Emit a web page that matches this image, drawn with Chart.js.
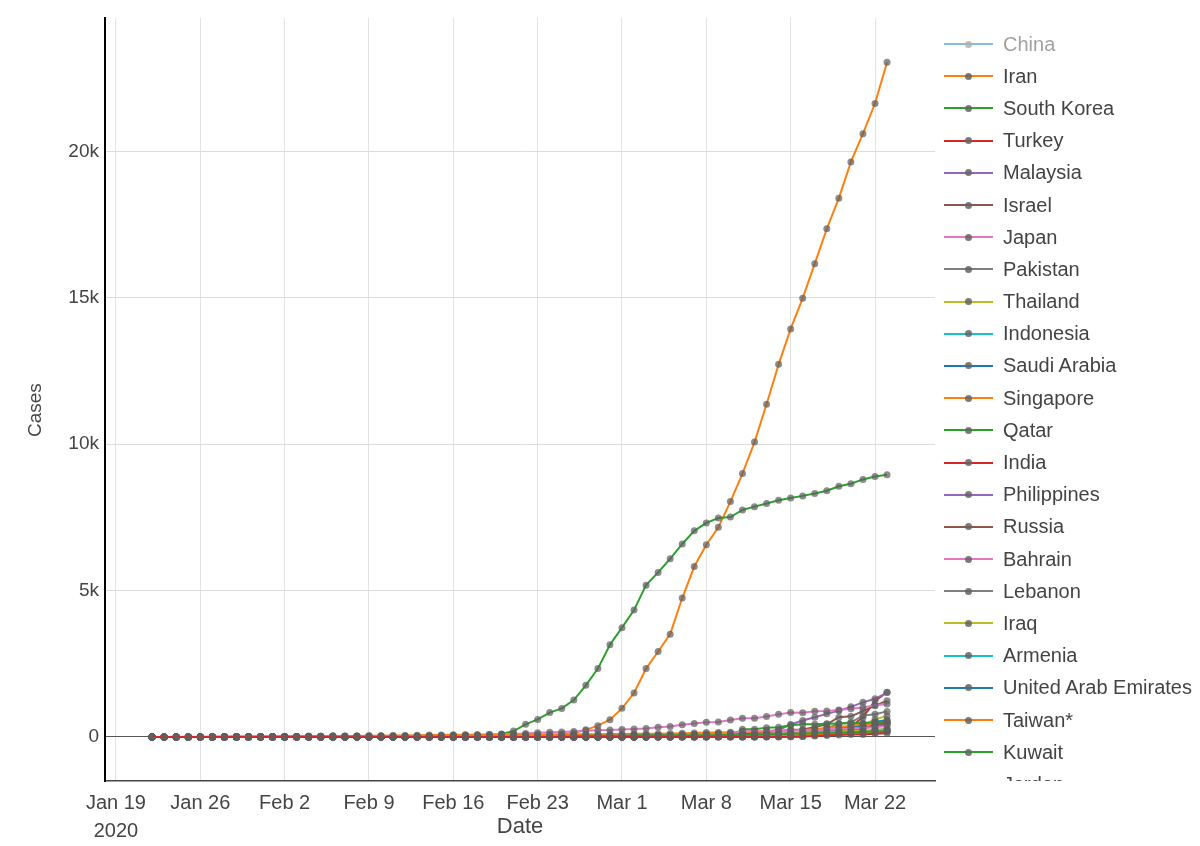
<!DOCTYPE html>
<html>
<head>
<meta charset="utf-8">
<script src="https://cdn.jsdelivr.net/npm/chart.js@4.4.1/dist/chart.umd.min.js"></script>
<style>
  html, body { margin: 0; padding: 0; background: #fff; }
  #wrap { position: relative; width: 1200px; height: 846px; }
  #legend {
    position: absolute; left: 940px; top: 28px; width: 260px; height: 753px;
    overflow: hidden; font-family: "Liberation Sans", Arial, sans-serif;
    font-size: 20px; color: #444;
  }
  .item { height: 32.2px; display: flex; align-items: center; white-space: nowrap; }
  .item.off { opacity: 0.5; }
  .sym { position: relative; width: 49px; height: 2px; margin-left: 4px; margin-right: 10px; flex: none; }
  .sym i { position: absolute; left: 21px; top: -2.5px; width: 7px; height: 7px; border-radius: 50%; background: rgba(100,100,100,0.85); }
</style>
</head>
<body>
<div id="wrap">
  <canvas id="chart" width="1200" height="846"></canvas>
  <div id="legend"></div>
</div>
<script>
// ---- données : cas confirmés, un point par jour du 22 janv. au 23 mars 2020 ----
const firstDayOffset = 3; // 22 janv. = 3 jours après le 19 janv. (origine de l'axe)
const tickDays = [0, 7, 14, 21, 28, 35, 42, 49, 56, 63];
const yTicks = [0, 5000, 10000, 15000, 20000];

const countries = ['China', 'Iran', 'South Korea', 'Turkey', 'Malaysia', 'Israel', 'Japan', 'Pakistan',
  'Thailand', 'Indonesia', 'Saudi Arabia', 'Singapore', 'Qatar', 'India', 'Philippines', 'Russia',
  'Bahrain', 'Lebanon', 'Iraq', 'Armenia', 'United Arab Emirates', 'Taiwan*', 'Kuwait', 'Jordan'];
const hiddenCountries = ['China'];

const china = [548,643,920,1406,2075,2877,5509,6087,8141,9802,
  11891,16630,19716,23707,27440,30587,34110,36814,39829,42354,44386,44759,59895,66358,68413,70513,72434,74211,74619,75077,75550,77001,77022,77241,77754,78166,78600,78928,79356,
  79932,80136,80261,80386,80537,80690,80770,80823,80860,80887,80921,80932,80945,80977,81003,81033,81058,81102,81156,81250,81305,81435,81498];
const iran = [0,0,0,0,0,0,0,0,0,0,
  0,0,0,0,0,0,0,0,0,0,0,0,0,0,0,0,0,0,2,5,18,28,43,61,95,139,245,388,593,
  978,1501,2336,2922,3513,4747,5823,6566,7161,8042,9000,10075,11364,12729,13938,14991,16169,17361,18407,19644,20610,21638,23049];
const southKorea = [1,1,2,2,3,4,4,4,4,11,
  12,15,15,16,19,23,24,24,25,27,28,28,28,28,28,29,30,31,31,104,204,433,602,833,977,1261,1766,2337,3150,
  3736,4335,5186,5621,6088,6593,7041,7314,7478,7513,7755,7869,7979,8086,8162,8236,8320,8413,8565,8652,8799,8897,8961];
const turkey = [0,0,0,0,0,0,0,0,0,0,
  0,0,0,0,0,0,0,0,0,0,0,0,0,0,0,0,0,0,0,0,0,0,0,0,0,0,0,0,0,
  0,0,0,0,0,0,0,0,0,0,1,1,5,5,6,18,47,98,192,359,670,1236,1529];
const malaysia = [0,0,0,3,4,4,4,7,8,8,
  8,8,8,10,12,12,12,16,16,18,18,18,19,19,22,22,22,22,22,22,22,22,22,22,22,22,23,25,29,
  29,29,36,50,50,83,93,99,117,129,149,149,197,238,428,566,673,790,900,1030,1183,1306,1518];
const israel = [0,0,0,0,0,0,0,0,0,0,
  0,0,0,0,0,0,0,0,0,0,0,0,0,0,0,0,0,0,0,0,1,1,1,1,1,2,3,4,7,
  10,10,12,15,20,37,43,61,61,75,100,126,161,193,250,255,337,433,677,705,883,1071,1238];
const japan = [2,1,2,2,4,4,7,7,11,15,
  20,20,20,22,22,45,25,25,26,26,26,28,28,29,43,59,66,74,84,94,105,122,147,159,170,189,214,228,241,
  256,274,293,331,360,420,461,502,511,581,639,639,701,773,839,825,878,889,924,963,1007,1086,1128];
const pakistan = [0,0,0,0,0,0,0,0,0,0,
  0,0,0,0,0,0,0,0,0,0,0,0,0,0,0,0,0,0,0,0,0,0,0,0,0,2,2,2,4,
  4,4,5,5,5,6,6,6,6,16,19,20,28,31,53,136,236,299,454,501,730,776,875];
const thailand = [2,3,5,7,8,8,14,14,14,19,
  19,19,19,25,25,25,25,32,32,32,33,33,33,33,33,34,35,35,35,35,35,35,35,35,37,40,40,41,42,
  42,43,43,43,47,48,50,50,50,53,59,70,75,82,114,147,177,212,272,322,411,599,721];
const indonesia = [0,0,0,0,0,0,0,0,0,0,
  0,0,0,0,0,0,0,0,0,0,0,0,0,0,0,0,0,0,0,0,0,0,0,0,0,0,0,0,0,
  0,2,2,2,2,4,4,6,19,27,34,34,69,96,117,134,172,227,311,369,450,514,579];
const saudiArabia = [0,0,0,0,0,0,0,0,0,0,
  0,0,0,0,0,0,0,0,0,0,0,0,0,0,0,0,0,0,0,0,0,0,0,0,0,0,0,0,0,
  0,1,1,1,5,5,5,11,15,20,21,45,86,103,103,118,171,171,274,344,392,511,562];
const singapore = [0,1,3,3,4,5,7,7,10,13,
  16,18,18,24,28,28,30,33,40,45,47,50,58,67,72,75,77,81,84,84,85,85,89,89,91,93,96,98,102,
  106,108,110,110,117,130,138,150,150,160,178,178,200,212,226,243,266,313,345,385,432,455,509];
const qatar = [0,0,0,0,0,0,0,0,0,0,
  0,0,0,0,0,0,0,0,0,0,0,0,0,0,0,0,0,0,0,0,0,0,0,0,0,0,0,0,1,
  1,3,7,8,8,8,15,15,18,24,262,262,320,337,401,439,439,452,460,470,481,494,501];
const india = [0,0,0,0,0,0,0,0,1,1,
  1,2,3,3,3,3,3,3,3,3,3,3,3,3,3,3,3,3,3,3,3,3,3,3,3,3,3,3,3,
  3,5,5,28,30,31,34,39,43,56,62,73,82,102,113,119,142,156,194,244,330,396,499];
const philippines = [0,0,0,0,0,0,0,0,1,1,
  1,2,2,2,3,3,3,3,3,3,3,3,3,3,3,3,3,3,3,3,3,3,3,3,3,3,3,3,3,
  3,3,3,3,3,5,6,10,20,33,49,52,64,111,140,142,187,202,217,230,307,380,462];
const russia = [0,0,0,0,0,0,0,0,0,2,
  2,2,2,2,2,2,2,2,2,2,2,2,2,2,2,2,2,2,2,2,2,2,2,2,2,2,2,2,2,
  2,3,3,3,4,13,13,17,17,20,20,28,45,59,63,90,114,147,199,253,306,367,438];
const bahrain = [0,0,0,0,0,0,0,0,0,0,
  0,0,0,0,0,0,0,0,0,0,0,0,0,0,0,0,0,0,0,0,0,0,0,1,23,33,33,36,41,
  47,49,49,52,55,60,85,85,95,110,195,195,195,210,214,214,228,256,278,285,305,334,377];
const lebanon = [0,0,0,0,0,0,0,0,0,0,
  0,0,0,0,0,0,0,0,0,0,0,0,0,0,0,0,0,0,0,0,1,1,1,1,1,2,2,2,4,
  10,13,13,13,16,22,22,32,32,41,61,61,77,93,110,110,120,133,157,163,187,248,267];
const iraq = [0,0,0,0,0,0,0,0,0,0,
  0,0,0,0,0,0,0,0,0,0,0,0,0,0,0,0,0,0,0,0,0,0,0,1,5,6,7,8,13,
  19,26,32,35,35,40,54,60,60,71,71,71,101,110,116,124,154,164,192,208,214,233,266];
const armenia = [0,0,0,0,0,0,0,0,0,0,
  0,0,0,0,0,0,0,0,0,0,0,0,0,0,0,0,0,0,0,0,0,0,0,0,0,0,0,0,0,
  1,1,1,1,1,1,1,1,1,1,1,4,8,18,26,52,78,84,115,136,160,194,235];
const uae = [0,0,0,0,0,0,0,4,4,4,
  4,5,5,5,5,5,5,7,7,8,8,8,8,8,8,9,9,9,9,9,9,13,13,13,13,13,13,19,21,
  21,21,27,27,29,29,45,45,45,74,74,85,85,85,98,98,98,113,140,140,153,153,198];
const taiwan = [1,1,3,3,4,5,8,8,9,10,
  10,10,10,11,11,16,16,17,18,18,18,18,18,18,18,20,22,22,23,24,26,26,28,30,31,32,32,34,39,
  40,41,42,42,44,45,45,45,45,47,48,49,50,53,59,67,77,100,108,135,153,169,195];
const kuwait = [0,0,0,0,0,0,0,0,0,0,
  0,0,0,0,0,0,0,0,0,0,0,0,0,0,0,0,0,0,0,0,0,0,0,1,11,26,43,45,45,
  45,56,56,56,58,58,61,64,64,69,72,80,80,104,112,123,130,142,148,159,176,188,189];
const jordan = [0,0,0,0,0,0,0,0,0,0,
  0,0,0,0,0,0,0,0,0,0,0,0,0,0,0,0,0,0,0,0,0,0,0,0,0,0,0,0,0,
  0,0,1,1,1,1,1,1,1,1,1,1,1,1,8,17,34,52,69,85,85,112,127];

const series = [china, iran, southKorea, turkey, malaysia, israel, japan, pakistan, thailand,
  indonesia, saudiArabia, singapore, qatar, india, philippines, russia, bahrain, lebanon, iraq,
  armenia, uae, taiwan, kuwait, jordan];

// palette par défaut de plotly
const palette = ['#1f77b4', '#ff7f0e', '#2ca02c', '#d62728', '#9467bd', '#8c564b', '#e377c2', '#7f7f7f', '#bcbd22', '#17becf'];
const monthNames = ['Jan', 'Feb', 'Mar', 'Apr'];
const FONT = '"Liberation Sans", Arial, sans-serif';

function tickLabel(v) {
  const d = new Date(2020, 0, 19 + v);
  const s = monthNames[d.getMonth()] + ' ' + d.getDate();
  return v === 0 ? [s, '2020'] : s;
}

const datasets = countries.map((name, i) => ({
  label: name,
  data: series[i].map((v, k) => ({ x: k + firstDayOffset, y: v })),
  hidden: hiddenCountries.includes(name),
  borderColor: palette[i % palette.length],
  borderWidth: 2,
  pointRadius: 3.5,
  pointBackgroundColor: 'rgba(95,95,95,0.72)',
  pointBorderWidth: 0,
  tension: 0,
  order: -i
}));

new Chart(document.getElementById('chart'), {
  type: 'line',
  data: { datasets },
  options: {
    responsive: false,
    animation: false,
    layout: { padding: { top: 18, right: 265, bottom: 0, left: 0 } },
    plugins: { legend: { display: false }, tooltip: { enabled: false } },
    scales: {
      x: {
        type: 'linear',
        min: -0.91,
        max: 67.98,
        afterBuildTicks: s => { s.ticks = tickDays.map(v => ({ value: v })); },
        afterFit: s => { s.height = 65; },
        ticks: { callback: v => tickLabel(v), color: '#444', font: { family: FONT, size: 20, lineHeight: 1.4 }, padding: 8, maxRotation: 0, autoSkip: false },
        grid: { color: '#e2e2e2', lineWidth: 1, drawTicks: false },
        border: { color: '#444', width: 1.5 },
        title: { display: true, text: 'Date', color: '#444', font: { family: FONT, size: 22 }, padding: { top: 0, bottom: 6 } }
      },
      y: {
        min: -1503,
        max: 24560,
        afterBuildTicks: s => { s.ticks = yTicks.map(v => ({ value: v })); },
        afterFit: s => { s.width = 105; },
        ticks: { callback: v => v === 0 ? '0' : (v / 1000) + 'k', color: '#444', font: { family: FONT, size: 19 }, padding: 6 },
        grid: { color: ctx => ctx.tick && ctx.tick.value === 0 ? '#555' : '#dcdcdc', lineWidth: 1, drawTicks: false },
        border: { color: '#000', width: 2 },
        // espaces en fin de texte : décale le titre vers le bas comme sur l'original
        title: { display: true, text: 'Cases    ', color: '#444', font: { family: FONT, size: 19 }, padding: { top: 24, bottom: 0 } }
      }
    }
  }
});

// Légende à droite, façon plotly (tronquée en bas)
const legend = document.getElementById('legend');
countries.forEach((name, i) => {
  const row = document.createElement('div');
  row.className = 'item' + (hiddenCountries.includes(name) ? ' off' : '');
  const sym = document.createElement('span');
  sym.className = 'sym';
  sym.style.background = palette[i % palette.length];
  sym.appendChild(document.createElement('i'));
  const txt = document.createElement('span');
  txt.textContent = name;
  row.appendChild(sym);
  row.appendChild(txt);
  legend.appendChild(row);
});
</script>
</body>
</html>
